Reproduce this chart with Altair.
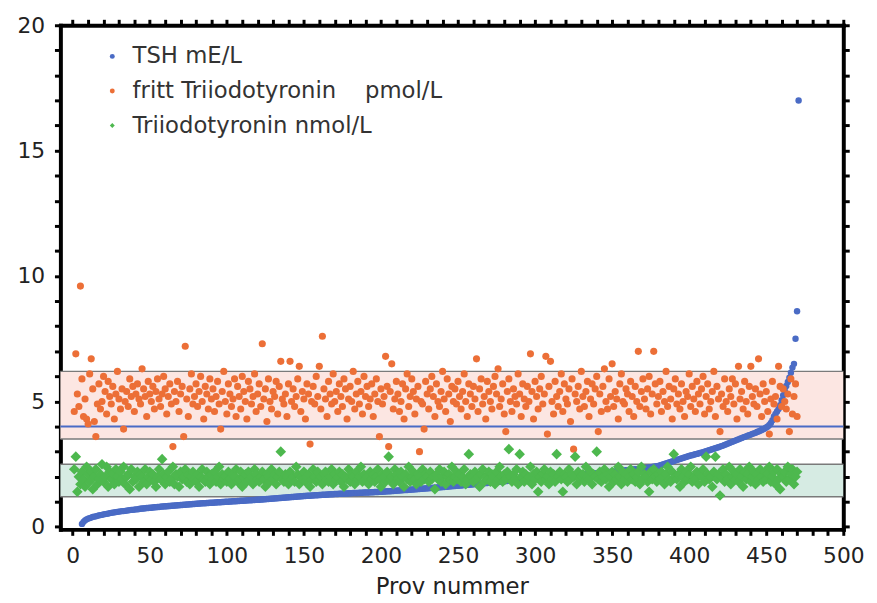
import altair as alt
import pandas as pd

# ---------------- data ----------------
series_names = ["TSH mE/L",
                "fritt Triiodotyronin\u00a0\u00a0\u00a0\u00a0pmol/L",
                "Triiodotyronin nmol/L"]
series_colors = ["#4a6bc5", "#ec6f37", "#4db84e"]
series_shapes = ["circle", "circle", "diamond"]

x_tick_values = list(range(0, 501, 10))
y_tick_values = list(range(0, 21))

# TSH (sorted), sample numbers 6..471
tsh_first = 6
tsh = [
    0.12, 0.20, 0.26, 0.30,
    0.33, 0.35, 0.37, 0.40, 0.41, 0.42, 0.44, 0.46, 0.47, 0.48,
    0.50, 0.51, 0.52, 0.53, 0.55, 0.56, 0.57, 0.58, 0.59, 0.60,
    0.61, 0.62, 0.63, 0.63, 0.64, 0.65, 0.66, 0.67, 0.68, 0.68,
    0.69, 0.70, 0.70, 0.71, 0.72, 0.73, 0.73, 0.74, 0.75, 0.75,
    0.76, 0.76, 0.77, 0.78, 0.78, 0.79, 0.79, 0.80, 0.81, 0.81,
    0.82, 0.82, 0.83, 0.83, 0.84, 0.84, 0.85, 0.85, 0.86, 0.86,
    0.87, 0.87, 0.88, 0.88, 0.89, 0.89, 0.90, 0.90, 0.91, 0.91,
    0.92, 0.92, 0.93, 0.93, 0.94, 0.94, 0.94, 0.95, 0.95, 0.96,
    0.96, 0.96, 0.97, 0.97, 0.98, 0.98, 0.98, 0.99, 0.99, 1.00,
    1.00, 1.00, 1.01, 1.01, 1.02, 1.02, 1.02, 1.03, 1.03, 1.04,
    1.04, 1.04, 1.05, 1.05, 1.06, 1.06, 1.06, 1.07, 1.07, 1.08,
    1.08, 1.08, 1.09, 1.09, 1.10, 1.10, 1.11, 1.11, 1.12, 1.12,
    1.13, 1.13, 1.14, 1.14, 1.15, 1.15, 1.16, 1.16, 1.17, 1.17,
    1.18, 1.18, 1.19, 1.19, 1.20, 1.20, 1.21, 1.21, 1.22, 1.22,
    1.23, 1.23, 1.24, 1.24, 1.24, 1.25, 1.25, 1.26, 1.26, 1.26,
    1.27, 1.27, 1.28, 1.28, 1.28, 1.29, 1.29, 1.30, 1.30, 1.30,
    1.31, 1.31, 1.31, 1.32, 1.32, 1.32, 1.33, 1.33, 1.33, 1.34,
    1.34, 1.34, 1.35, 1.35, 1.35, 1.35, 1.36, 1.36, 1.36, 1.37,
    1.37, 1.37, 1.37, 1.38, 1.38, 1.38, 1.39, 1.39, 1.39, 1.40,
    1.40, 1.40, 1.41, 1.41, 1.42, 1.42, 1.42, 1.43, 1.43, 1.44,
    1.44, 1.45, 1.45, 1.46, 1.46, 1.47, 1.47, 1.47, 1.48, 1.48,
    1.49, 1.49, 1.50, 1.50, 1.51, 1.51, 1.52, 1.52, 1.53, 1.53,
    1.54, 1.54, 1.55, 1.55, 1.56, 1.56, 1.57, 1.57, 1.58, 1.58,
    1.59, 1.59, 1.60, 1.60, 1.61, 1.62, 1.62, 1.63, 1.63, 1.64,
    1.64, 1.65, 1.65, 1.66, 1.67, 1.67, 1.68, 1.68, 1.69, 1.69,
    1.70, 1.71, 1.71, 1.72, 1.72, 1.73, 1.74, 1.74, 1.75, 1.75,
    1.76, 1.77, 1.77, 1.78, 1.78, 1.79, 1.80, 1.80, 1.81, 1.81,
    1.82, 1.83, 1.83, 1.84, 1.84, 1.85, 1.86, 1.86, 1.87, 1.87,
    1.88, 1.89, 1.89, 1.90, 1.90, 1.91, 1.92, 1.92, 1.93, 1.93,
    1.94, 1.94, 1.95, 1.95, 1.96, 1.96, 1.97, 1.97, 1.98, 1.98,
    1.99, 1.99, 2.00, 2.00, 2.01, 2.01, 2.02, 2.02, 2.03, 2.03,
    2.04, 2.04, 2.05, 2.05, 2.06, 2.06, 2.07, 2.07, 2.08, 2.08,
    2.09, 2.09, 2.10, 2.10, 2.11, 2.11, 2.12, 2.12, 2.13, 2.13,
    2.14, 2.14, 2.15, 2.16, 2.16, 2.17, 2.17, 2.18, 2.19, 2.19,
    2.20, 2.20, 2.21, 2.22, 2.22, 2.23, 2.24, 2.24, 2.25, 2.26,
    2.26, 2.27, 2.28, 2.28, 2.29, 2.30, 2.30, 2.31, 2.32, 2.33,
    2.33, 2.34, 2.35, 2.36, 2.37, 2.38, 2.39, 2.40, 2.41, 2.42,
    2.43, 2.45, 2.47, 2.49, 2.51, 2.53, 2.55, 2.57, 2.59, 2.61,
    2.63, 2.65, 2.67, 2.69, 2.71, 2.73, 2.75, 2.77, 2.79, 2.81,
    2.83, 2.85, 2.86, 2.88, 2.90, 2.91, 2.93, 2.95, 2.96, 2.98,
    3.00, 3.02, 3.04, 3.06, 3.08, 3.10, 3.12, 3.14, 3.16, 3.18,
    3.20, 3.22, 3.24, 3.27, 3.29, 3.32, 3.34, 3.37, 3.39, 3.42,
    3.44, 3.47, 3.49, 3.52, 3.54, 3.57, 3.59, 3.61, 3.64, 3.66,
    3.68, 3.71, 3.73, 3.75, 3.78, 3.80, 3.83, 3.86, 3.89, 3.92,
    3.96, 4.00, 4.06, 4.14, 4.25, 4.40, 4.50, 4.60, 4.70, 4.85,
    5.05, 5.25, 5.45, 5.62, 5.78, 5.95, 6.15, 6.35, 6.50, 7.50,
    8.60, 17.00,
]

# fritt Triiodotyronin pmol/L, sample numbers 1..470
ft3_first = 1
ft3 = [
    4.6, 6.9, 5.3, 4.8, 9.6, 5.9, 4.4, 5.1, 4.3, 4.1,
    6.1, 6.7, 5.5, 4.2, 3.6, 4.9, 5.7, 4.7, 5.0, 6.0,
    5.4, 4.5, 5.8, 5.2, 4.9, 5.6, 4.3, 5.3, 6.2, 5.1,
    4.7, 5.5, 3.9, 5.0, 5.4, 4.8, 5.9, 5.2, 5.6, 4.6,
    5.3, 5.7, 5.1, 4.9, 6.3, 5.5, 5.2, 4.4, 5.8, 5.3,
    5.0, 5.6, 4.7, 5.4, 5.9, 5.1, 4.8, 5.3, 6.0, 5.5,
    4.5, 5.2, 5.7, 4.9, 3.2, 5.4, 5.0, 5.8, 4.6, 5.3,
    5.6, 3.6, 7.2, 5.1, 4.4, 5.5, 6.1, 4.9, 5.2, 5.7,
    4.8, 5.4, 6.0, 5.0, 4.3, 5.6, 5.3, 4.7, 5.9, 5.1,
    5.5, 4.6, 5.2, 5.8, 4.9, 3.9, 5.4, 6.2, 5.0, 4.5,
    5.7, 5.3, 4.8, 5.1, 5.9, 4.4, 5.6, 5.2, 4.7, 6.0,
    5.4, 5.0, 4.3, 5.8, 5.5, 4.9, 5.2, 6.1, 4.6, 5.3,
    5.7, 4.8, 7.3, 5.1, 5.5, 4.2, 5.9, 5.0, 4.7, 5.4,
    5.2, 5.8, 4.5, 5.6, 6.6, 5.1, 4.9, 5.3, 4.4, 5.7,
    6.6, 5.0, 5.5, 4.8, 5.2, 5.9, 6.4, 4.6, 5.4, 5.1,
    4.3, 5.7, 5.3, 3.3, 5.0, 5.6, 4.9, 6.0, 5.2, 6.4,
    4.7, 7.6, 5.5, 5.1, 4.4, 5.8, 5.3, 4.9, 6.1, 5.0,
    5.4, 4.6, 5.7, 5.2, 4.8, 5.9, 5.5, 4.3, 5.1, 5.6,
    5.0, 6.2, 4.7, 5.3, 5.8, 4.9, 5.4, 4.5, 6.0, 5.2,
    5.6, 4.8, 5.1, 5.7, 4.4, 5.3, 5.9, 5.0, 3.6, 5.5,
    4.9, 5.2, 6.8, 5.6, 3.2, 5.4, 6.5, 4.7, 5.1, 5.8,
    5.3, 4.6, 5.0, 5.7, 4.3, 5.5, 6.1, 4.8, 5.2, 5.9,
    5.4, 4.5, 5.1, 5.6, 3.0, 5.0, 4.9, 3.9, 5.8, 5.3,
    4.7, 5.5, 6.0, 5.2, 4.4, 5.7, 5.0, 4.8, 5.4, 6.2,
    5.1, 4.6, 5.9, 5.3, 4.2, 5.6, 5.0, 5.5, 4.9, 5.8,
    5.2, 4.7, 5.4, 6.1, 5.0, 4.4, 5.7, 5.3, 4.8, 5.6,
    5.1, 6.7, 4.6, 5.5, 5.9, 4.9, 5.2, 4.3, 5.8, 5.4,
    5.0, 4.7, 5.6, 6.0, 5.3, 6.3, 4.8, 5.1, 5.7, 4.5,
    3.8, 5.4, 5.9, 5.0, 4.6, 5.5, 5.2, 4.9, 6.1, 5.3,
    4.4, 5.7, 5.1, 4.8, 5.6, 5.0, 6.9, 5.4, 4.3, 5.8,
    5.2, 4.7, 5.5, 6.0, 4.9, 5.3, 6.8, 3.7, 5.6, 6.6,
    5.0, 4.5, 5.8, 5.2, 4.8, 5.4, 6.1, 4.6, 5.7, 5.1,
    4.9, 5.5, 4.2, 5.9, 3.1, 5.3, 5.0, 5.6, 4.7, 6.2,
    5.2, 4.8, 5.4, 5.8, 4.4, 5.1, 5.7, 4.9, 5.5, 6.0,
    3.8, 5.3, 4.6, 5.6, 6.3, 5.0, 4.7, 5.9, 5.2, 6.5,
    4.8, 5.4, 5.1, 4.3, 5.7, 6.1, 5.0, 4.9, 5.5, 5.3,
    4.6, 5.8, 5.2, 4.4, 5.6, 5.0, 7.0, 4.8, 5.4, 5.9,
    5.1, 4.7, 5.5, 6.0, 4.5, 5.3, 7.0, 5.7, 4.9, 5.2,
    5.8, 4.6, 5.4, 5.0, 6.2, 4.8, 5.6, 5.1, 4.3, 5.5,
    5.9, 4.9, 5.3, 4.7, 5.7, 5.0, 4.4, 5.4, 5.2, 6.1,
    4.8, 5.6, 5.1, 4.6, 5.8, 5.3, 4.9, 5.5, 6.0, 4.5,
    5.2, 5.7, 4.7, 5.0, 5.4, 6.2, 4.4, 5.6, 5.1, 3.8,
    5.3, 4.8, 5.9, 5.0, 4.6, 5.5, 5.2, 5.9, 4.9, 5.7,
    4.3, 6.4, 5.1, 5.4, 4.7, 5.8, 5.0, 4.5, 5.6, 6.4,
    5.2, 4.9, 5.5, 4.8, 6.7, 5.3, 4.4, 5.7, 5.0, 5.4,
    4.6, 3.7, 5.1, 5.8, 4.9, 5.2, 4.3, 6.4, 5.6, 4.8,
    5.5, 5.0, 4.7, 5.3, 3.8, 5.9, 4.5, 5.2, 5.7, 4.4,
]

# Triiodotyronin nmol/L, sample numbers 1..470
t3_first = 1
t3 = [
    2.3, 2.8, 1.4, 2.0, 1.7, 2.2, 1.9, 1.6, 2.4, 2.1,
    1.8, 2.2, 1.5, 2.0, 2.3, 1.7, 1.9, 2.1, 2.5, 1.8,
    2.0, 2.4, 1.6, 2.2, 1.9, 2.1, 1.7, 2.3, 2.0, 1.8,
    2.2, 1.9, 2.4, 1.7, 2.0, 2.1, 1.5, 2.3, 1.8, 2.0,
    1.9, 2.2, 1.6, 2.1, 2.0, 1.8, 2.3, 1.7, 2.0, 2.2,
    1.9, 2.1, 1.8, 1.6, 2.0, 2.3, 1.9, 2.7, 2.1, 1.7,
    2.0, 2.2, 1.8, 1.9, 2.4, 1.7, 2.1, 2.0, 1.6, 2.2,
    1.9, 2.0, 2.3, 1.8, 2.1, 1.7, 2.0, 2.2, 1.9, 1.8,
    2.1, 1.6, 2.0, 2.3, 1.9, 1.8, 2.2, 2.0, 1.7, 2.1,
    1.9, 2.2, 1.8, 2.0, 2.4, 1.7, 2.1, 1.9, 2.0, 1.8,
    2.2, 1.9, 1.7, 2.1, 2.0, 2.3, 1.8, 1.9, 2.2, 1.6,
    2.0, 2.1, 1.8, 2.2, 1.9, 2.0, 1.7, 2.3, 2.1, 1.9,
    1.8, 2.0, 2.2, 1.9, 1.6, 2.1, 2.0, 1.8, 2.3, 1.9,
    2.1, 1.7, 2.0, 2.2, 3.0, 1.9, 1.8, 2.1, 2.0, 1.7,
    2.2, 1.9, 2.0, 1.8, 2.4, 2.1, 1.7, 2.0, 1.9, 2.2,
    1.8, 2.0, 2.1, 1.6, 1.9, 2.3, 2.0, 1.8, 2.2, 1.9,
    2.0, 1.7, 2.1, 2.2, 1.9, 1.8, 2.0, 2.3, 1.7, 2.1,
    1.9, 2.0, 2.2, 1.8, 2.1, 1.6, 2.0, 1.9, 2.3, 1.8,
    2.1, 2.0, 1.7, 2.2, 1.9, 2.0, 2.4, 1.8, 2.1, 1.9,
    2.0, 1.7, 2.2, 1.9, 2.1, 1.8, 2.0, 2.3, 1.9, 1.6,
    2.1, 2.0, 1.8, 2.2, 2.8, 1.9, 2.0, 1.7, 2.3, 2.1,
    1.9, 1.8, 2.2, 2.0, 1.6, 2.1, 1.9, 2.4, 1.8, 2.0,
    2.2, 1.9, 1.7, 2.1, 2.0, 1.8, 2.3, 1.9, 2.1, 2.0,
    1.8, 2.2, 1.9, 2.0, 1.5, 2.1, 1.9, 2.3, 1.8, 2.0,
    2.2, 1.7, 2.0, 2.1, 1.9, 2.4, 1.8, 2.0, 2.2, 1.9,
    2.1, 1.8, 2.0, 2.3, 1.7, 1.9, 2.9, 2.1, 2.0, 1.8,
    2.2, 1.9, 2.0, 1.6, 2.1, 2.3, 1.8, 2.0, 1.9, 2.2,
    1.8, 2.1, 2.0, 1.7, 2.2, 1.9, 2.4, 2.0, 1.8, 2.1,
    1.9, 2.2, 3.1, 2.0, 1.8, 2.1, 1.9, 2.3, 1.7, 2.9,
    2.0, 2.2, 1.8, 2.1, 1.9, 2.0, 2.4, 1.7, 2.1, 1.9,
    2.2, 1.4, 2.0, 1.8, 2.1, 2.3, 1.9, 2.0, 1.7, 2.2,
    1.9, 2.1, 1.8, 2.9, 2.0, 2.2, 1.9, 1.4, 2.1, 2.0,
    1.8, 2.3, 1.9, 2.1, 2.0, 2.8, 1.7, 2.2, 1.9, 2.0,
    2.1, 1.8, 2.4, 2.0, 1.9, 2.2, 1.7, 2.1, 2.0, 3.0,
    1.9, 2.2, 1.8, 2.0, 2.3, 1.9, 2.1, 1.6, 2.0, 2.2,
    1.8, 2.1, 1.9, 2.4, 2.0, 1.7, 2.2, 1.9, 2.1, 1.8,
    2.0, 2.3, 1.9, 2.1, 1.8, 2.0, 2.2, 1.7, 2.4, 1.9,
    2.1, 2.0, 1.8, 1.4, 2.2, 1.9, 2.3, 2.0, 1.8, 2.1,
    1.9, 2.2, 2.0, 1.7, 2.1, 2.4, 1.9, 1.8, 2.2, 2.9,
    2.0, 1.9, 2.1, 1.6, 2.3, 2.0, 1.8, 2.2, 1.9, 2.1,
    2.4, 1.8, 2.0, 1.9, 2.2, 1.7, 2.1, 2.0, 2.3, 1.8,
    2.8, 2.1, 1.9, 2.0, 1.6, 2.2, 2.8, 1.9, 2.1, 1.25,
    2.0, 2.3, 1.8, 2.1, 1.9, 2.4, 1.7, 2.0, 2.2, 1.9,
    2.1, 1.8, 2.3, 2.0, 1.6, 2.2, 1.9, 2.1, 2.4, 1.8,
    2.0, 2.2, 1.7, 2.1, 1.9, 2.3, 2.0, 1.8, 2.2, 1.9,
    2.1, 2.4, 1.8, 2.0, 2.2, 1.7, 2.3, 1.9, 1.5, 2.1,
    2.0, 2.2, 1.8, 2.4, 1.9, 2.1, 2.3, 1.7, 2.0, 2.2,
]

# reference ranges
band_low = [3.5, 1.2]
band_high = [6.2, 2.5]
band_fill = ["#fce6e2", "#d6ebe3"]
tsh_limit = [4.0]

# ---------------- tables ----------------
def series_frame(first, values, name):
    return pd.DataFrame({
        "prov": list(range(first, first + len(values))),
        "value": values,
        "series": name,
    })

df_tsh = series_frame(tsh_first, tsh, series_names[0])
df_ft3 = series_frame(ft3_first, ft3, series_names[1])
df_t3 = series_frame(t3_first, t3, series_names[2])
df_bands = pd.DataFrame({"lo": band_low, "hi": band_high, "fill": band_fill})
df_edges = pd.DataFrame({"edge": band_low + band_high})
df_limit = pd.DataFrame({"limit": tsh_limit})

W, H = 792, 510
FONT = "DejaVu Sans"
TXT = "#222222"

xscale = alt.Scale(domain=[-8, 500], nice=False, zero=False)
yscale = alt.Scale(domain=[-0.1, 20], nice=False, zero=False)

axis_common = dict(domainColor="black", domainWidth=4, domainCap="square",
                   tickColor="black", tickWidth=3, tickSize=6, grid=False,
                   labelOverlap=False, labelFlush=False)

x_bottom = alt.Axis(orient="bottom", values=x_tick_values,
                    labelExpr="datum.value % 50 === 0 ? datum.label : ''",
                    labelPadding=10, title="Prov nummer", titlePadding=10,
                    **axis_common)
y_left = alt.Axis(orient="left", values=y_tick_values,
                  labelExpr="datum.value % 5 === 0 ? datum.label : ''",
                  labelPadding=10, title=None, **axis_common)
x_top = alt.Axis(orient="top", values=x_tick_values, labels=False,
                 title=None, **axis_common)
y_right = alt.Axis(orient="right", values=y_tick_values, labels=False,
                   title=None, **axis_common)

legend_def = alt.Legend(title=None, orient="none", legendX=41, legendY=20)
color_enc = alt.Color("series:N",
                      scale=alt.Scale(domain=series_names, range=series_colors),
                      legend=legend_def)
shape_enc = alt.Shape("series:N",
                      scale=alt.Scale(domain=series_names, range=series_shapes),
                      legend=legend_def)

bands = alt.Chart(df_bands).mark_rect().encode(
    y=alt.Y("lo:Q", scale=yscale, axis=None),
    y2="hi:Q",
    fill=alt.Fill("fill:N", scale=None, legend=None),
)
edges = alt.Chart(df_edges).mark_rule(color="#7a7a7a", strokeWidth=1.5).encode(
    y=alt.Y("edge:Q", scale=yscale, axis=None),
)
limit = alt.Chart(df_limit).mark_rule(color="#4a6bc5", strokeWidth=2).encode(
    y=alt.Y("limit:Q", scale=yscale, axis=None),
)

tsh_pts = alt.Chart(df_tsh).mark_point(filled=True, opacity=1, size=42).encode(
    x=alt.X("prov:Q", scale=xscale, axis=x_bottom),
    y=alt.Y("value:Q", scale=yscale, axis=y_left),
    color=color_enc, shape=shape_enc,
)
ft3_pts = alt.Chart(df_ft3).mark_point(filled=True, opacity=1, size=52).encode(
    x=alt.X("prov:Q", scale=xscale, axis=None),
    y=alt.Y("value:Q", scale=yscale, axis=None),
    color=color_enc, shape=shape_enc,
)
t3_pts = alt.Chart(df_t3).mark_point(filled=True, opacity=1, size=115).encode(
    x=alt.X("prov:Q", scale=xscale, axis=None),
    y=alt.Y("value:Q", scale=yscale, axis=None),
    color=color_enc, shape=shape_enc,
)
frame = alt.Chart(df_limit).mark_point(opacity=0).encode(
    x=alt.X("limit:Q", scale=xscale, axis=x_top),
    y=alt.Y("limit:Q", scale=yscale, axis=y_right),
)

chart = alt.layer(bands, edges, limit, tsh_pts, ft3_pts, t3_pts, frame).properties(
    width=W, height=H,
    padding={"left": 9, "top": 3, "right": 5, "bottom": 0},
).configure_view(stroke=None).configure_axis(
    labelFont=FONT, labelFontSize=22, labelColor=TXT,
    titleFont=FONT, titleFontSize=23, titleColor=TXT, titleFontWeight="normal",
).configure_legend(
    labelFont=FONT, labelFontSize=23, labelColor="#333333",
    labelOffset=9, rowPadding=11, symbolSize=25, symbolStrokeWidth=0,
    labelLimit=0,
)

chart.save("out.html", embed_options={"renderer": "svg", "actions": False})
